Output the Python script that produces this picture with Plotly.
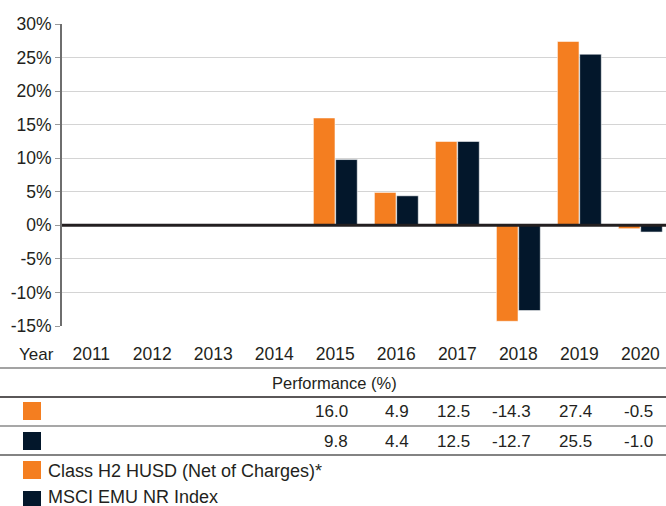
import plotly.graph_objects as go

years = ["2011", "2012", "2013", "2014", "2015", "2016", "2017", "2018", "2019", "2020"]
fund_name = "Class H2 HUSD (Net of Charges)*"
index_name = "MSCI EMU NR Index"
fund_values = [None, None, None, None, 16.0, 4.9, 12.5, -14.3, 27.4, -0.5]
index_values = [None, None, None, None, 9.8, 4.4, 12.5, -12.7, 25.5, -1.0]
ytick_vals = [-15, -10, -5, 0, 5, 10, 15, 20, 25, 30]
ytick_text = [f"{v}%" for v in ytick_vals]
table_title = "Performance (%)"
year_label = "Year"

ORANGE = "#F47E20"
NAVY = "#03172B"
TEXT = "#231F20"
FONT = "Liberation Sans, Arial, sans-serif"

W, H = 666, 506
L, R, T, B = 62, 0, 24, 180
PW, PH = W - L - R, H - T - B
PLOT_BOTTOM = H - B


def py(p):
    return (PLOT_BOTTOM - p) / PH


def px(p):
    return (p - L) / PW


fig = go.Figure()
for name, vals, col in [(fund_name, fund_values, ORANGE), (index_name, index_values, NAVY)]:
    fig.add_trace(go.Bar(
        x=years, y=vals, name=name,
        marker=dict(color=col, line=dict(color="rgba(255,255,255,0.55)", width=1)),
        showlegend=False,
    ))

shapes = []
annotations = []

# zero line above bars
shapes.append(dict(type="line", xref="paper", yref="y", x0=0, x1=1, y0=0, y1=0,
                   line=dict(color=TEXT, width=3), layer="above"))

# table horizontal rules
for p, col in [(368, "#858585"), (397, "#231F20"), (426, "#8a8a8a"), (455, "#5a5a5a")]:
    shapes.append(dict(type="line", xref="paper", yref="paper", x0=px(0), x1=px(W),
                       y0=py(p), y1=py(p), line=dict(color=col, width=1.5)))

# row squares and legend squares
for (top, col) in [(402, ORANGE), (432, NAVY), (461, ORANGE), (491, NAVY)]:
    shapes.append(dict(type="rect", xref="paper", yref="paper", x0=px(23), x1=px(41),
                       y0=py(top), y1=py(top + 18), fillcolor=col, line=dict(width=0)))

# Year label
annotations.append(dict(text=year_label, xref="paper", yref="paper", x=px(36), y=py(354),
                        xanchor="center", yanchor="middle", showarrow=False,
                        font=dict(size=17, color=TEXT, family=FONT)))
# Performance title
annotations.append(dict(text=table_title, xref="paper", yref="paper", x=px(334), y=py(383),
                        xanchor="center", yanchor="middle", showarrow=False,
                        font=dict(size=16.5, color=TEXT, family=FONT)))

# table values (category index positions on the x axis)
for vals, ypix in [(fund_values, 412), (index_values, 441)]:
    for i, v in enumerate(vals):
        if v is None:
            continue
        annotations.append(dict(text=f"{v:.1f}", xref="x", yref="paper", x=i, y=py(ypix),
                                xanchor="right", yanchor="middle", xshift=15, showarrow=False,
                                font=dict(size=17, color=TEXT, family=FONT)))

# legend texts
for name, ypix in [(fund_name, 471), (index_name, 497)]:
    annotations.append(dict(text=name, xref="paper", yref="paper", x=px(46), y=py(ypix),
                            xanchor="left", yanchor="middle", showarrow=False,
                            font=dict(size=18, color=TEXT, family=FONT)))

fig.update_layout(
    width=W, height=H,
    margin=dict(l=L, r=R, t=T, b=B, pad=0),
    paper_bgcolor="white", plot_bgcolor="white",
    barmode="group", bargap=0.27, bargroupgap=0.03,
    font=dict(family=FONT, size=17, color=TEXT),
    shapes=shapes, annotations=annotations,
    xaxis=dict(type="category", range=[-0.48, 9.42], showgrid=False, showline=False,
               zeroline=False, ticks="outside", ticklen=12, tickcolor="rgba(0,0,0,0)",
               tickfont=dict(size=17.5, color=TEXT, family=FONT)),
    yaxis=dict(range=[-15, 30], tickvals=ytick_vals, ticktext=ytick_text,
               showgrid=True, gridcolor="#D4D4D4", gridwidth=1,
               zeroline=False, showline=True, linecolor="#6E6E6E", linewidth=2,
               ticks="outside", ticklen=5, tickcolor="#9a9a9a", tickwidth=1,
               tickfont=dict(size=17.5, color=TEXT, family=FONT)),
)

fig.write_html(
    "out.html",
    config={"displayModeBar": False},
    post_script="document.body.style.margin='0';document.body.style.padding='0';",
)
